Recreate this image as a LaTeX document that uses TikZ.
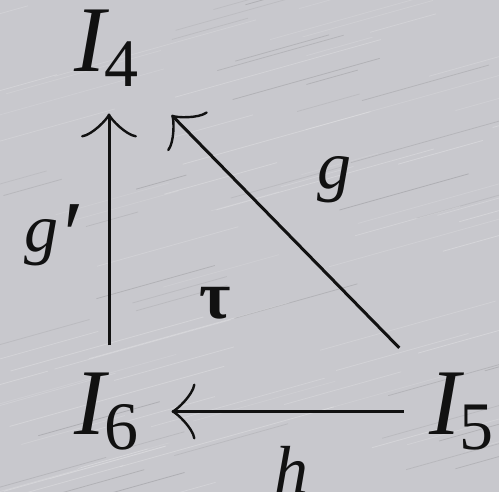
\documentclass[tikz,border=0pt]{standalone}
\usepackage{fontspec}
\setmainfont{Liberation Serif}
\usetikzlibrary{arrows.meta,calc}
\definecolor{bgc}{RGB}{200,200,205}
\definecolor{ink}{RGB}{17,17,17}
\begin{document}
\begin{tikzpicture}[x=1pt,y=-1pt,
  obj/.style={inner sep=0pt, text=ink, font=\fontsize{94}{94}\selectfont},
  lab/.style={inner sep=0pt, text=ink, font=\fontsize{68}{68}\selectfont},
  arr/.style={draw=ink, line width=3pt, -{Classical TikZ Rightarrow[length=24pt,width=56pt]}},
  streak/.style={line width=0.8pt}]
\fill[bgc] (0,0) rectangle (499,492);
\useasboundingbox (0,0) rectangle (499,492);
\pgfmathsetseed{7}
\foreach \i in {1,...,70}{
  \pgfmathsetmacro{\sx}{rnd*560-60}
  \pgfmathsetmacro{\sy}{rnd*560}
  \pgfmathsetmacro{\len}{60+rnd*160}
  \pgfmathsetmacro{\op}{0.10+rnd*0.15}
  \draw[streak, white, opacity=\op] (\sx,\sy) -- ++(\len,-0.28*\len);
}
\foreach \i in {1,...,40}{
  \pgfmathsetmacro{\sx}{rnd*560-60}
  \pgfmathsetmacro{\sy}{rnd*560}
  \pgfmathsetmacro{\len}{40+rnd*120}
  \pgfmathsetmacro{\op}{0.05+rnd*0.08}
  \draw[streak, black, opacity=\op] (\sx,\sy) -- ++(\len,-0.28*\len);
}
\node[obj] (I4) at (106.5,48.5) {\itshape I\kern-2pt\raisebox{-15pt}{\fontsize{68}{68}\selectfont\upshape 4}};
\node[obj] (I6) at (106.5,411.5) {\itshape I\kern-2pt\raisebox{-15pt}{\fontsize{68}{68}\selectfont\upshape 6}};
\node[obj] (I5) at (461.5,411.5) {\itshape I\kern-2pt\raisebox{-15pt}{\fontsize{68}{68}\selectfont\upshape 5}};
\draw[arr, shorten <=66pt, shorten >=65pt] ([xshift=2.5pt]I6.center) -- ([xshift=2.5pt]I4.center);
\draw[arr, shorten <=58pt, shorten >=65pt] (I5.center) -- (I6.center);
\draw[arr, shorten <=89pt, shorten >=93pt] (I5.center) -- (I4.center);
\node[lab, anchor=base west] (gp) at (24,252) {\itshape g\kern-1pt\raisebox{-16pt}{\fontsize{96}{96}\selectfont ′}};
\node[lab] (g) at (334,180) {\itshape g};
\node[lab] (tau) at (215,303) {\bfseries τ};
\node[lab] (h) at (291,470) {\itshape h};
\end{tikzpicture}
\end{document}
